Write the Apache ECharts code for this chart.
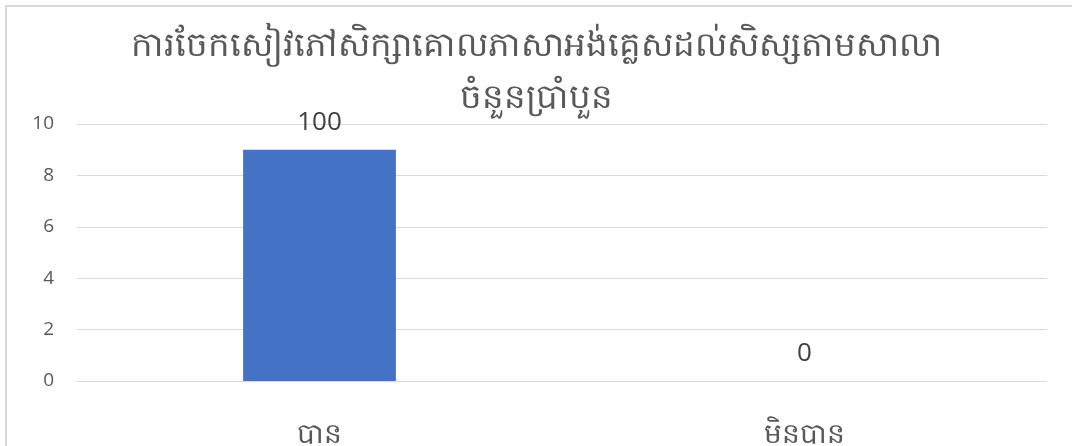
<!DOCTYPE html>
<html>
<head>
<meta charset="utf-8">
<script src="https://cdn.jsdelivr.net/npm/echarts@6/dist/echarts.min.js"></script>
<style>
html,body{margin:0;padding:0;background:#fff;overflow:hidden;}
#c{width:1072px;height:446px;}
</style>
</head>
<body>
<div id="c"></div>
<script>
const titleLines = ['ការចែកសៀវភៅសិក្សាគោលភាសាអង់គ្លេសដល់សិស្សតាមសាលា', 'ចំនួនប្រាំបួន'];
const categories = ['បាន', 'មិនបាន'];
const values = [9, 0];
const valueLabels = ['100', '0'];
const yMin = 0, yMax = 10, yStep = 2;

const chart = echarts.init(document.getElementById('c'), null, {renderer: 'canvas'});
chart.setOption({
  animation: false,
  backgroundColor: '#ffffff',
  graphic: [
    {type: 'line', shape: {x1: 6, y1: 6, x2: 6, y2: 446}, style: {stroke: '#d9d9d9', lineWidth: 2}, z: -1},
    {type: 'line', shape: {x1: 5, y1: 6, x2: 1072, y2: 6}, style: {stroke: '#d9d9d9', lineWidth: 2}, z: -1}
  ],
  title: {
    text: titleLines.join('\n'),
    left: 'center', top: 16,
    textStyle: {color: '#595959', fontSize: 34, fontWeight: 'normal', lineHeight: 52, fontFamily: 'sans-serif'}
  },
  grid: {left: 77, right: 25, top: 124, bottom: 65, containLabel: false, outerBoundsMode: 'none'},
  xAxis: {
    type: 'category', data: categories,
    axisLine: {show: true, lineStyle: {color: '#d9d9d9', width: 1}},
    axisTick: {show: false},
    axisLabel: {color: '#595959', fontSize: 28, margin: 40, fontFamily: 'sans-serif'}
  },
  yAxis: {
    type: 'value', min: yMin, max: yMax, interval: yStep,
    axisLine: {show: false}, axisTick: {show: false},
    axisLabel: {color: '#595959', fontSize: 19, margin: 23, fontFamily: 'Open Sans, sans-serif'},
    splitLine: {lineStyle: {color: '#d9d9d9', width: 1}}
  },
  series: [{
    type: 'bar', data: values, barWidth: '31.5%',
    itemStyle: {color: '#4472c4'},
    label: {
      show: true, position: 'top', distance: 14, color: '#404040', fontSize: 26,
      fontFamily: 'Open Sans, sans-serif',
      formatter: p => valueLabels[p.dataIndex]
    }
  }]
});
</script>
</body>
</html>
